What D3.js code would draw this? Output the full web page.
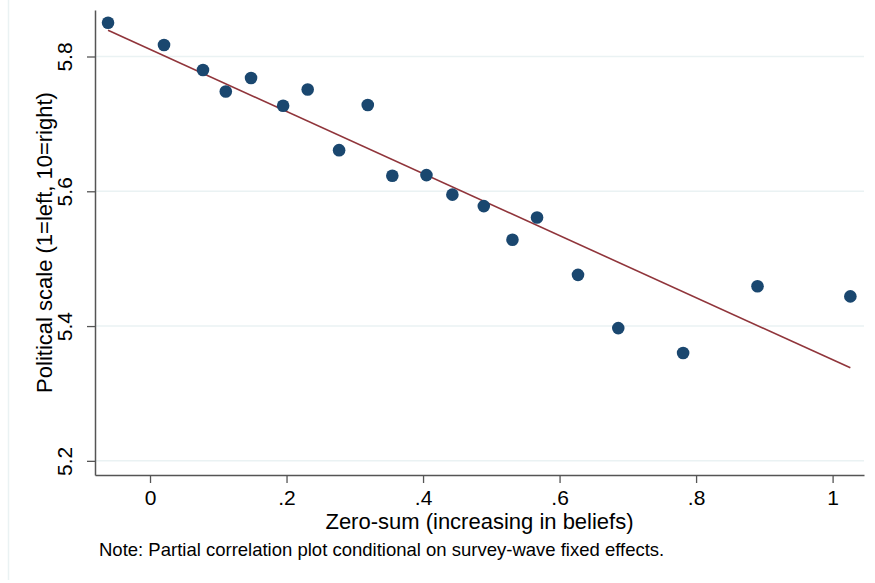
<!DOCTYPE html>
<html>
<head>
<meta charset="utf-8">
<script src="https://cdn.jsdelivr.net/npm/d3@7"></script>
<style>
  body { margin: 0; background: #fff; }
  text { font-family: Arial, "Liberation Sans", sans-serif; fill: #000; }
</style>
</head>
<body>
<div id="chart"></div>
<script>
// binned scatter points (zero-sum belief vs political scale)
var zeroSum = [-0.0615, 0.0205, 0.0776, 0.111, 0.148, 0.195, 0.231, 0.277, 0.319, 0.355,
               0.405, 0.443, 0.489, 0.531, 0.567, 0.627, 0.686, 0.781, 0.890, 1.026];
var political = [5.850, 5.817, 5.780, 5.748, 5.768, 5.727, 5.751, 5.661, 5.728, 5.623,
                 5.624, 5.595, 5.578, 5.528, 5.561, 5.476, 5.397, 5.360, 5.459, 5.444];

// fitted line end points
var fitX = [-0.0615, 1.026];
var fitY = [5.839, 5.338];

var xTicks = [0, 0.2, 0.4, 0.6, 0.8, 1];
var yTicks = [5.2, 5.4, 5.6, 5.8];

var W = 875, H = 583;
var margin = {top: 10, right: 11, bottom: 108, left: 95};
var width = W - margin.left - margin.right,
    height = H - margin.top - margin.bottom;

var svg = d3.select("#chart").append("svg")
    .attr("width", W)
    .attr("height", H);

// faint outer border line on the left
svg.append("line")
    .attr("x1", 8.5).attr("x2", 8.5)
    .attr("y1", 0).attr("y2", 580)
    .attr("stroke", "#eaf2f3")
    .attr("stroke-width", 1.5);

var g = svg.append("g")
    .attr("transform", "translate(" + margin.left + "," + margin.top + ")");

var x = d3.scaleLinear().domain([-0.0806, 1.046]).range([0, width]);
var y = d3.scaleLinear().domain([5.179, 5.869]).range([height, 0]);

// gridlines
g.append("g")
    .selectAll("line")
    .data(yTicks)
    .enter().append("line")
    .attr("x1", 0).attr("x2", width)
    .attr("y1", function(d) { return y(d); })
    .attr("y2", function(d) { return y(d); })
    .attr("stroke", "#eaf2f3")
    .attr("stroke-width", 1.5);

// fitted line
var pts = fitX.map(function(d, i) { return [d, fitY[i]]; });
g.append("path")
    .datum(pts)
    .attr("fill", "none")
    .attr("stroke", "#90353b")
    .attr("stroke-width", 1.6)
    .attr("d", d3.line().x(function(d) { return x(d[0]); }).y(function(d) { return y(d[1]); }));

// scatter dots
g.append("g")
    .selectAll("circle")
    .data(zeroSum.map(function(d, i) { return {x: d, y: political[i]}; }))
    .enter().append("circle")
    .attr("cx", function(d) { return x(d.x); })
    .attr("cy", function(d) { return y(d.y); })
    .attr("r", 6.3)
    .attr("fill", "#1a476f");

// x axis
var xAxis = g.append("g")
    .attr("transform", "translate(0," + height + ")")
    .call(d3.axisBottom(x).tickValues(xTicks).tickSizeInner(8).tickSizeOuter(0)
        .tickFormat(function(d) { return d === 0 ? "0" : d === 1 ? "1" : d3.format(".1f")(d).replace(/^0/, ""); }));
xAxis.select(".domain").attr("stroke", "#555").attr("stroke-width", 1.5);
xAxis.selectAll(".tick line").attr("stroke", "#555").attr("stroke-width", 1.3);
xAxis.selectAll(".tick text")
    .attr("font-size", 21)
    .attr("fill", "#000")
    .attr("dy", null)
    .attr("y", 30);

// y axis
var yAxis = g.append("g")
    .call(d3.axisLeft(y).tickValues(yTicks).tickSizeInner(8).tickSizeOuter(0)
        .tickFormat(d3.format(".1f")));
yAxis.select(".domain").attr("stroke", "#555").attr("stroke-width", 1.5);
yAxis.selectAll(".tick line").attr("stroke", "#555").attr("stroke-width", 1.3);
yAxis.selectAll(".tick text")
    .attr("font-size", 21)
    .attr("fill", "#000")
    .attr("x", null).attr("dy", null)
    .attr("text-anchor", "middle")
    .attr("transform", "translate(-23,0) rotate(-90)");

// axis titles
g.append("text")
    .attr("x", width / 2)
    .attr("y", height + 54)
    .attr("text-anchor", "middle")
    .attr("font-size", 22)
    .text("Zero-sum (increasing in beliefs)");

g.append("text")
    .attr("transform", "translate(-43," + (height / 2) + ") rotate(-90)")
    .attr("text-anchor", "middle")
    .attr("font-size", 22)
    .text("Political scale (1=left, 10=right)");

// note
svg.append("text")
    .attr("x", 99)
    .attr("y", 556)
    .attr("font-size", 18.5)
    .text("Note: Partial correlation plot conditional on survey-wave fixed effects.");
</script>
</body>
</html>
